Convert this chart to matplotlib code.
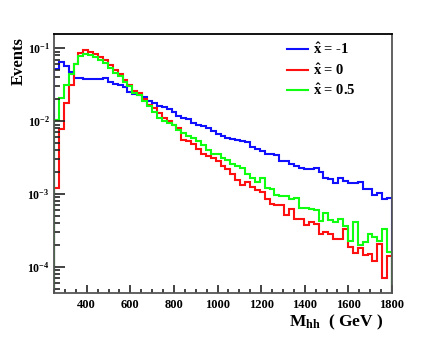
import numpy as np
import matplotlib
matplotlib.use('Agg')
import matplotlib.pyplot as plt
from matplotlib.ticker import FixedLocator, FixedFormatter, MultipleLocator, LogLocator, NullFormatter

# histogram binning: 69 bins between 250 and 1800 GeV
x_min = 250
x_max = 1800
n_bins = 69

# x_hat = -1
blue_vals = [0.052, 0.064, 0.057, 0.048, 0.039, 0.039, 0.038, 0.038, 0.0385, 0.0375,
             0.0395, 0.034, 0.0323, 0.0313, 0.0297, 0.0254, 0.0236, 0.0232, 0.0216, 0.0189,
             0.0179, 0.0163, 0.0156, 0.0145, 0.0135, 0.0119, 0.0111, 0.0107, 0.0093, 0.0090,
             0.0087, 0.0080, 0.0073, 0.0066, 0.0062, 0.0059, 0.0057, 0.0055, 0.0053, 0.0052,
             0.00445, 0.0041, 0.0039, 0.0036, 0.0035, 0.0034, 0.0028, 0.0028, 0.0026, 0.0024,
             0.00228, 0.00222, 0.00222, 0.00225, 0.00198, 0.00167, 0.0016, 0.00144, 0.00167, 0.00152,
             0.0014, 0.00144, 0.00147, 0.00119, 0.00117, 0.00097, 0.00102, 0.00087, 0.00089]

# x_hat = 0
red_vals = [0.0012, 0.0078, 0.0179, 0.031, 0.060, 0.085, 0.094, 0.090, 0.083, 0.077,
            0.068, 0.059, 0.050, 0.044, 0.037, 0.031, 0.026, 0.024, 0.020, 0.0165,
            0.015, 0.0128, 0.0112, 0.0100, 0.0088, 0.0080, 0.0056, 0.0054, 0.0049, 0.0042,
            0.0035, 0.0033, 0.0031, 0.0028, 0.0024, 0.0022, 0.0019, 0.00155, 0.00135, 0.00145,
            0.00125, 0.00113, 0.00107, 0.00087, 0.00072, 0.00071, 0.00070, 0.00052, 0.00063, 0.00045,
            0.00045, 0.00038, 0.00042, 0.00039, 0.00028, 0.0003, 0.00028, 0.00024, 0.00024, 0.00033,
            0.00019, 0.000156, 0.00018, 0.000145, 0.000153, 0.00012, 0.00021, 0.00007, 0.00014]

# x_hat = 0.5
green_vals = [0.0105, 0.021, 0.031, 0.044, 0.060, 0.079, 0.084, 0.082, 0.075, 0.069,
              0.062, 0.053, 0.046, 0.042, 0.035, 0.030, 0.024, 0.023, 0.019, 0.016,
              0.0135, 0.0112, 0.0102, 0.0095, 0.0088, 0.0075, 0.0068, 0.0062, 0.0058, 0.0054,
              0.0047, 0.0040, 0.0035, 0.0035, 0.0031, 0.0029, 0.0026, 0.0024, 0.0023, 0.0019,
              0.00168, 0.00147, 0.00164, 0.0012, 0.00119, 0.00097, 0.00094, 0.00094, 0.00085, 0.00088,
              0.00065, 0.00064, 0.00062, 0.0006, 0.00043, 0.00055, 0.00044, 0.00042, 0.00045, 0.00036,
              0.00023, 0.00042, 0.0002, 0.00022, 0.00028, 0.00026, 0.00023, 0.00033, 0.00016]

labels = [r'$\hat{x}$ = -1', r'$\hat{x}$ = 0', r'$\hat{x}$ = 0.5']
colors = ['#1010ff', '#ff1010', '#10ff10']

x_ticks = [400, 600, 800, 1000, 1200, 1400, 1600, 1800]
y_ticks = [1e-4, 1e-3, 1e-2, 1e-1]
y_ticklabels = [r'$10^{-4}$', r'$10^{-3}$', r'$10^{-2}$', r'$10^{-1}$']

plt.rcParams['font.family'] = ['Liberation Serif', 'DejaVu Serif']
plt.rcParams['font.weight'] = 'bold'
plt.rcParams['mathtext.fontset'] = 'custom'
plt.rcParams['mathtext.rm'] = 'Liberation Serif:bold'
plt.rcParams['mathtext.it'] = 'Liberation Serif:bold'
plt.rcParams['mathtext.bf'] = 'Liberation Serif:bold'

fig = plt.figure(figsize=(4.36, 3.54), dpi=100)
ax = fig.add_axes([54 / 436, 1 - 293 / 354, 338 / 436, 259 / 354])

edges = np.linspace(x_min, x_max, n_bins + 1)
for vals, col, lab in zip([blue_vals, red_vals, green_vals], colors, labels):
    ax.stairs(vals, edges, baseline=1e-7, color=col, lw=1.5, label=lab)

ax.set_yscale('log')
ax.set_xlim(x_min, x_max)
ax.set_ylim(4.4e-5, 0.157)

ax.xaxis.set_major_locator(FixedLocator(x_ticks))
ax.xaxis.set_minor_locator(MultipleLocator(50))
ax.yaxis.set_major_locator(FixedLocator(y_ticks))
ax.yaxis.set_major_formatter(FixedFormatter(y_ticklabels))
ax.yaxis.set_minor_locator(LogLocator(base=10, subs=np.arange(2, 10)))
ax.yaxis.set_minor_formatter(NullFormatter())

ax.tick_params(axis='both', which='both', direction='in', top=False, right=False,
               color='#222222', width=1.2)
ax.tick_params(axis='x', which='major', length=6, labelsize=9, pad=4)
ax.tick_params(axis='x', which='minor', length=3)
ax.tick_params(axis='y', which='major', length=8, labelsize=8.5, pad=3)
ax.tick_params(axis='y', which='minor', length=4)

for side in ['left', 'bottom', 'right']:
    ax.spines[side].set_color('#555555')
    ax.spines[side].set_linewidth(1.3)
ax.spines['top'].set_color('black')
ax.spines['top'].set_linewidth(1.3)

leg = ax.legend(loc='upper left', bbox_to_anchor=(287 / 436, 1 - 42 / 354),
                bbox_transform=fig.transFigure, frameon=False, fontsize=10.5,
                handlelength=1.45, handletextpad=0.35, labelspacing=0.35,
                borderaxespad=0, borderpad=0)

fig.text(19 / 436, 1 - 61 / 354, 'Events', rotation=90, ha='center', va='center',
         fontsize=12, fontweight='bold')
fig.text(383 / 436, 1 - 326 / 354, r'M$_{\mathbf{hh}}$  ( GeV )', ha='right', va='baseline',
         fontsize=12.5, fontweight='bold')

fig.savefig('out.png', dpi=100)
